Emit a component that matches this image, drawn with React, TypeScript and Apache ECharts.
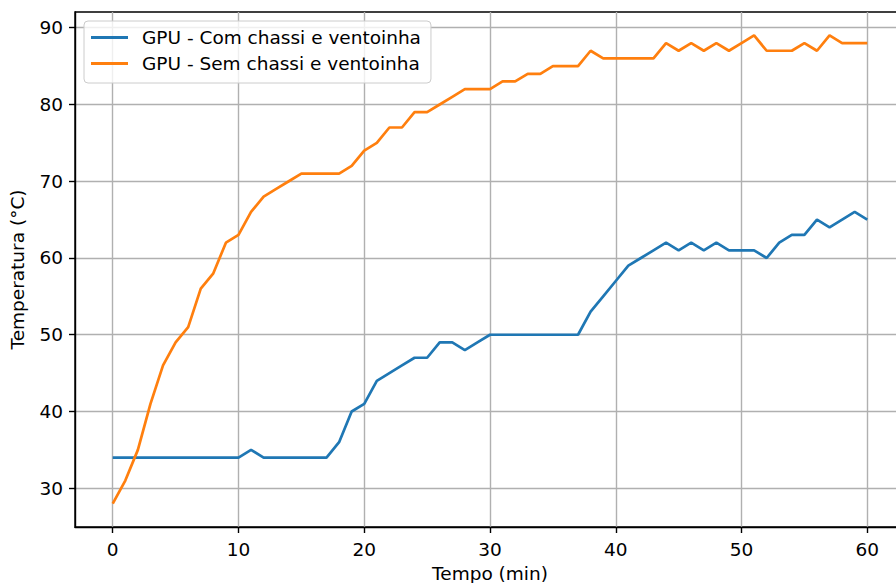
import React, { useEffect, useRef } from "react";
import * as echarts from "echarts";

const minutes = [
  0, 1, 2, 3, 4, 5, 6, 7, 8, 9, 10, 11, 12, 13, 14, 15, 16, 17, 18, 19, 20,
  21, 22, 23, 24, 25, 26, 27, 28, 29, 30, 31, 32, 33, 34, 35, 36, 37, 38, 39, 40,
  41, 42, 43, 44, 45, 46, 47, 48, 49, 50, 51, 52, 53, 54, 55, 56, 57, 58, 59, 60,
];

const comChassi = [
  34, 34, 34, 34, 34, 34, 34, 34, 34, 34, 34, 35, 34, 34, 34, 34, 34, 34, 36, 40, 41,
  44, 45, 46, 47, 47, 49, 49, 48, 49, 50, 50, 50, 50, 50, 50, 50, 50, 53, 55, 57,
  59, 60, 61, 62, 61, 62, 61, 62, 61, 61, 61, 60, 62, 63, 63, 65, 64, 65, 66, 65,
];

const semChassi = [
  28, 31, 35, 41, 46, 49, 51, 56, 58, 62, 63, 66, 68, 69, 70, 71, 71, 71, 71, 72, 74,
  75, 77, 77, 79, 79, 80, 81, 82, 82, 82, 83, 83, 84, 84, 85, 85, 85, 87, 86, 86,
  86, 86, 86, 88, 87, 88, 87, 88, 87, 88, 89, 87, 87, 87, 88, 87, 89, 88, 88, 88,
];

const seriesNames = ["GPU - Com chassi e ventoinha", "GPU - Sem chassi e ventoinha"];
const seriesColors = ["#1f77b4", "#ff7f0e"];
const xTicks = [0, 10, 20, 30, 40, 50, 60];
const yTicks = [30, 40, 50, 60, 70, 80, 90];

const FONT = "DejaVu Sans";
const FS = 18.5;

export default function App() {
  const ref = useRef<HTMLDivElement>(null);

  useEffect(() => {
    if (!ref.current) return;
    const chart = echarts.init(ref.current, null, { renderer: "svg" });

    const allVals = comChassi.concat(semChassi);
    const dMin = Math.min(...allVals);
    const dMax = Math.max(...allVals);
    const pad = (dMax - dMin) * 0.05;
    const xPad = (minutes[minutes.length - 1] - minutes[0]) * 0.05;

    const axisLineStyle = { color: "#000", width: 1.4 };
    const gridLine = { show: true, lineStyle: { color: "#b0b0b0", width: 1.4 } };

    const option: any = {
      animation: false,
      textStyle: { fontFamily: FONT },
      grid: {
        left: 75,
        top: 12,
        width: 830,
        height: 515,
        outerBoundsMode: "none",
        containLabel: false,
        show: true,
        borderColor: "#000",
        borderWidth: 1.4,
        backgroundColor: "transparent",
      },
      legend: {
        left: 84,
        top: 21,
        orient: "vertical",
        icon: "rect",
        itemWidth: 37,
        itemHeight: 3,
        itemGap: 7,
        padding: [7, 10, 10, 7],
        backgroundColor: "rgba(255,255,255,0.8)",
        borderColor: "#cccccc",
        borderWidth: 1,
        borderRadius: 4,
        textStyle: {
          fontFamily: FONT,
          fontSize: FS,
          lineHeight: 19,
          color: "#000",
          padding: [0, 0, 0, 9],
        },
        data: seriesNames,
      },
      xAxis: {
        type: "value",
        min: minutes[0] - xPad,
        max: minutes[minutes.length - 1] + xPad,
        name: "Tempo (min)",
        nameLocation: "middle",
        nameGap: 36,
        nameTextStyle: { fontFamily: FONT, fontSize: FS, color: "#000" },
        axisLine: { show: true, onZero: false, lineStyle: axisLineStyle },
        axisTick: { show: true, length: 6, lineStyle: axisLineStyle, customValues: xTicks },
        axisLabel: { fontFamily: FONT, fontSize: FS, color: "#000", margin: 13, customValues: xTicks },
        splitLine: gridLine,
      },
      yAxis: {
        type: "value",
        min: dMin - pad,
        max: dMax + pad,
        name: "Temperatura (°C)",
        nameLocation: "middle",
        nameGap: 48,
        nameTextStyle: { fontFamily: FONT, fontSize: FS, color: "#000" },
        axisLine: { show: true, onZero: false, lineStyle: axisLineStyle },
        axisTick: { show: true, length: 6, lineStyle: axisLineStyle, customValues: yTicks },
        axisLabel: { fontFamily: FONT, fontSize: FS, color: "#000", margin: 12, customValues: yTicks },
        splitLine: gridLine,
      },
      series: [
        {
          name: seriesNames[0],
          type: "line",
          color: seriesColors[0],
          symbol: "none",
          lineStyle: { width: 2.7, color: seriesColors[0] },
          data: minutes.map((m, i) => [m, comChassi[i]]),
        },
        {
          name: seriesNames[1],
          type: "line",
          color: seriesColors[1],
          symbol: "none",
          lineStyle: { width: 2.7, color: seriesColors[1] },
          data: minutes.map((m, i) => [m, semChassi[i]]),
        },
      ],
    };

    chart.setOption(option);
    return () => chart.dispose();
  }, []);

  return (
    <div
      ref={ref}
      style={{ position: "fixed", left: 0, top: 0, width: 896, height: 583, background: "#fff" }}
    />
  );
}
